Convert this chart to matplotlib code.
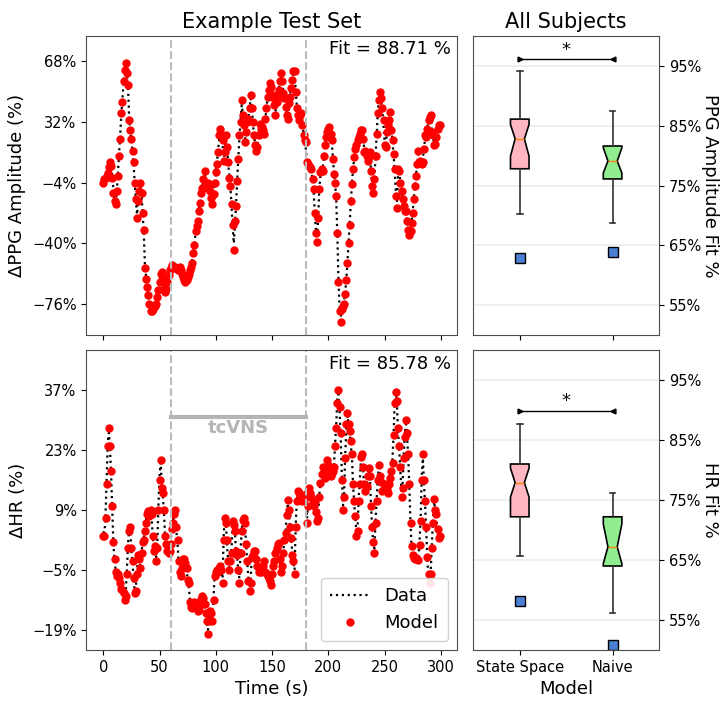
"""
Example test set fit (PPG amplitude and HR) with group box plots.
"""

import numpy as np
import matplotlib
matplotlib.use('Agg')
import matplotlib.pyplot as plt
from matplotlib.ticker import PercentFormatter

matplotlib.rcParams['font.family'] = 'DejaVu Sans'
matplotlib.rcParams['axes.edgecolor'] = '0.3'

# ------------------------------------------------------------
# Data
# ------------------------------------------------------------
time_s = np.arange(300)

ppg_model = [
    -4, -2, -1, 0, 1.5, 5, 8, 6, -1, -10,
    -15, -17, -9, 0, 12, 22, 37, 44, 56, 63,
    67, 61, 54, 33, 27, 22, 15, 8, -4, -14,
    -25, -15, -9, -4, -10, -22, -32, -55, -61, -66,
    -71, -76, -80, -80, -79, -78, -77, -76, -72, -68,
    -63, -58, -57, -61, -67, -69, -67, -63, -59, -56,
    -55, -53, -55, -54, -54, -55, -56, -55, -54, -56,
    -58, -60, -62, -63, -62, -60, -58, -56, -54, -52,
    -46, -41, -33, -30, -27, -21, -16, -10, -7, -2,
    3, -5, -7, -4, -6, -9, -13, -17, -11, -4,
    2, 7, 14, 24, 28, 25, 21, 9, 14, 24,
    17, 8, -1, -6, -17, -29, -44, -27, -18, -3,
    10, 24, 32, 45, 36, 30, 20, 26, 32, 34,
    40, 48, 40, 32, 24, 18, 15, 17, 24, 31,
    28, 29, 27, 25, 34, 40, 47, 51, 55, 53,
    47, 48, 42, 36, 44, 47, 51, 56, 61, 56,
    49, 46, 41, 36, 34, 43, 47, 52, 57, 62,
    62, 50, 40, 36, 33, 36, 37, 30, 24, 21,
    20, 8, 7, 6, 5, 4, -2, -8, -22, -34,
    -39, -25, -8, 2, 4, 3, 12, 18, 23, 26,
    28, 29, 25, 21, 10, 1, -4, -12, -34, -63,
    -80, -87, -79, -77, -76, -70, -62, -52, -40, -29,
    -15, -5, 4, 11, 16, 18, 21, 23, 25, 27,
    27, 22, 14, 15, 12, 9, 11, 14, 3, -6,
    -10, -2, 12, 25, 37, 45, 50, 46, 40, 33,
    18, 17, 26, 30, 33, 38, 27, 21, 13, 4,
    -12, -19, 4, 3, -4, -9, -14, -18, -21, -21,
    -27, -32, -35, -33, -28, -22, -14, -6, 0, 7,
    15, 9, 8, 7, 8, 16, 24, 23, 28, 33,
    35, 36, 26, 24, 18, 19, 23, 28, 30, 30,
]

ppg_data = [
    -4, -3, -1, 1, 2, 4, 7, 6, 0, -8,
    -14, -16, -10, 1, 13, 24, 36, 45, 55, 62,
    65, 62, 52, 35, 26, 21, 14, 6, -5, -15,
    -23, -16, -10, -5, -11, -23, -34, -53, -60, -66,
    -72, -77, -79, -80, -79, -77, -76, -75, -71, -67,
    -62, -59, -58, -62, -66, -68, -66, -62, -58, -56,
    -54, -54, -55, -55, -54, -55, -56, -56, -55, -56,
    -58, -60, -61, -62, -61, -59, -57, -55, -53, -50,
    -45, -40, -34, -29, -25, -20, -15, -10, -6, -2,
    1, -4, -6, -5, -6, -8, -11, -14, -10, -5,
    3, 8, 15, 22, 26, 24, 19, 11, 15, 22,
    16, 7, 0, -7, -18, -31, -40, -29, -17, -2,
    11, 23, 33, 42, 37, 29, 22, 25, 31, 35,
    41, 46, 41, 31, 23, 19, 17, 18, 25, 30,
    29, 28, 27, 27, 33, 41, 46, 52, 54, 52,
    48, 46, 43, 38, 43, 48, 52, 57, 59, 55,
    50, 45, 40, 37, 35, 42, 48, 53, 58, 60,
    59, 51, 41, 35, 34, 35, 36, 31, 25, 20,
    16, 9, 6, 6, 5, 3, -3, -10, -23, -33,
    -37, -24, -7, 1, 4, 5, 11, 17, 23, 27,
    28, 28, 26, 20, 11, 2, -5, -14, -36, -62,
    -79, -84, -80, -77, -74, -69, -61, -51, -39, -27,
    -14, -4, 5, 10, 15, 19, 21, 24, 26, 26,
    25, 21, 16, 14, 12, 10, 12, 12, 2, -6,
    -8, 0, 13, 26, 38, 46, 49, 44, 38, 30,
    20, 19, 25, 31, 34, 35, 28, 20, 12, 2,
    -10, -15, 2, 2, -4, -10, -15, -19, -22, -23,
    -28, -33, -34, -32, -27, -21, -13, -5, 1, 8,
    13, 10, 9, 8, 10, 17, 22, 25, 29, 32,
    34, 33, 27, 23, 19, 20, 24, 27, 29, 30,
]

hr_model = [
    3, 3, 7, 15, 24, 28, 24, 18, 10, 1.5,
    -2.5, -5.5, -6.5, -6, -7, -8, -9.5, -9.7, -10.5, -12,
    -11, -6, 0, 4, 5, 0, -3, -7, -10.4, -10,
    -6, -1.5, -2.5, -4.5, -1, 1.5, 2, 4, 6, 8,
    8.8, 7.5, 9, 8, 3, -0.5, 0.5, -3, 0, 9,
    16, 20.7, 14, 13, 9, 3, 1, -0.5, -1, -0.5,
    1, 4.5, 6, 8, 9, 5, 2, -3, -5.5, -6.5,
    -4.5, -2.5, -2.5, -3.5, -4.5, -7.3, -8, -12.5, -13.6, -13.8,
    -13, -12.5, -12.8, -13.5, -14.7, -14.2, -12.8, -11.8, -11, -11.5,
    -13, -15, -17, -20, -17, -14.5, -15, -17, -12, -6.5,
    -5.5, -5, -5.5, -4.5, -4, -5, -8, 2, 7, 6,
    2, -3, -5, -3, -1, 6.5, 5.5, 4, -0.5, -1.5,
    -5, -8, -1, 4, 6.7, 7, 6, 1, -3, -7.5,
    -10, -8, -2, -1.5, -0.7, -0.5, -2.5, -4, -5.5, -4.5,
    -5.5, -5, -4, -3, -5.5, -5.8, -6.5, -7, -7.5, -8.5,
    -6, -4, -3, -1, 0, 1, 1.2, -2.5, -5.5, -4,
    -1, 2, 3.6, 7.8, 11.3, 9, 5, 2.5, -1.5, -3,
    -6, 5, 11, 13.5, 13, 12.5, 11.5, 11, 11.5, 12,
    12.8, 6, 10, 14, 13, 12, 11.3, 10, 11, 8.5,
    6.5, 7, 12, 15.2, 17.3, 19, 17.5, 16.5, 18, 20.7,
    19.5, 18, 17, 17.5, 18, 19, 23.8, 28, 34, 37,
    33, 27, 16, 9, 12, 21, 29, 31.5, 29, 27.5,
    25, 22, 15, 11, 7.5, 3, 4, 11, 15, 21.4,
    22, 19, 15, 13.5, 14.5, 17, 18.7, 17, 10, 5,
    1.5, -1, 6, 11, 16, 19.5, 17, 15.5, 13.5, 13.8,
    15, 14.5, 13.8, 13, 15, 16.5, 18, 20, 26.5, 34,
    36.5, 34.5, 28, 24, 19, 12, 14, 21, 26, 30,
    27, 22, 15, 6, 0.5, -1.5, -2.3, -2.5, -2.3, -2.4,
    -2.6, 0.8, 6.5, 16, 22, 16, 11, 5, -2, -6,
    -8, -6, 0, 6, 11.5, 9, 8, 4.5, 2.5, 3,
]

hr_data = [
    4, 3, 8, 16, 25, 27, 23, 17, 9, 1,
    -3, -5, -6, -6.5, -7.5, -8.5, -9, -10, -11, -11.5,
    -10, -5, 1, 4.5, 4, -0.5, -3.5, -7.5, -10, -9,
    -5, -2, -3, -4, -0.5, 1, 2.5, 4.5, 6.5, 8.5,
    9, 8, 9.5, 7, 2.5, 0, 0, -2, 1, 10,
    17, 20, 15, 12, 8, 2.5, 0.5, 0, -1.5, 0,
    2, 5, 6.5, 8.5, 8, 4, 1, -3.5, -5, -6,
    -4, -2, -3, -4, -5, -7, -9, -12, -13, -13.5,
    -12.5, -12, -13, -14, -14, -13.5, -12, -11.5, -11.5, -12,
    -13.5, -15.5, -17.5, -19, -16, -14, -15.5, -16.5, -11, -6,
    -5, -5.5, -5, -4, -4.5, -5.5, -7, 3, 7.5, 5.5,
    1, -3.5, -4.5, -2.5, 0, 6, 5, 3.5, -1, -2,
    -5.5, -7, -0.5, 4.5, 6.5, 6.5, 5, 0.5, -3.5, -7,
    -9, -7, -1.5, -1, -1, -1, -3, -4.5, -5, -4,
    -5, -4.5, -3.5, -3.5, -5, -6, -6.5, -7.5, -8, -8,
    -5.5, -3.5, -2.5, -0.5, 0.5, 1.5, 0.5, -3, -5, -3.5,
    -0.5, 2.5, 4, 8, 10.5, 8.5, 4.5, 2, -1, -3.5,
    -5, 5.5, 11.5, 13, 12.5, 12, 11, 11.5, 12, 12.5,
    12, 7, 10.5, 13.5, 12.5, 11.5, 11, 10.5, 10.5, 8,
    7, 8, 12.5, 15.5, 17, 18.5, 17, 17, 18.5, 20,
    19, 17.5, 17.5, 17, 18.5, 19.5, 24.5, 29, 35, 36,
    32, 26, 17, 10, 13, 22, 28, 31, 28.5, 27,
    24, 21, 14.5, 10.5, 7, 3.5, 5, 12, 16, 21,
    21.5, 18, 14.5, 14, 15, 17.5, 18, 16, 9.5, 4.5,
    1, 0, 7, 12, 16.5, 19, 16.5, 15, 14, 14,
    15.5, 14, 13.5, 13.5, 15.5, 17, 18.5, 21, 27, 35,
    37, 33, 27, 23, 18, 13, 15, 22, 27, 29,
    26, 21, 14, 5.5, 0, -1, -2, -2.5, -2, -2,
    -2, 1.5, 7, 17, 21, 15, 10, 4, -3, -7,
    -8.5, -5, 1, 7, 11, 8.5, 7, 4, 2, 3,
]

ppg_fit = 88.71
hr_fit = 85.78
stim_on, stim_off = 60, 180

# Group box plot statistics (percent fit) for State Space and Naive
box_names = ['State Space', 'Naive']
ppg_med = [82.8, 79.1]
ppg_q1 = [77.8, 76.1]
ppg_q3 = [86.1, 81.6]
ppg_cilo = [79.9, 77.1]
ppg_cihi = [85.2, 81.3]
ppg_whislo = [70.2, 68.7]
ppg_whishi = [94.2, 87.5]
ppg_fliers = [62.9, 63.8]
ppg_sig_y = 96.1

hr_med = [77.9, 67.2]
hr_q1 = [72.2, 64.0]
hr_q3 = [81.0, 72.2]
hr_cilo = [75.5, 64.4]
hr_cihi = [80.3, 71.0]
hr_whislo = [65.7, 56.1]
hr_whishi = [87.7, 76.2]
hr_fliers = [58.1, 50.8]
hr_sig_y = 89.9

box_colors = ['#ffb6c1', '#90ee90']
flier_color = '#4a7fd4'

# ------------------------------------------------------------
# Figure
# ------------------------------------------------------------
fig = plt.figure(figsize=(7.26, 7.02), dpi=100)
ax_ppg = fig.add_axes([0.119, 0.5228, 0.510, 0.4259])
ax_hr = fig.add_axes([0.119, 0.0741, 0.510, 0.4273], sharex=ax_ppg)
bx_ppg = fig.add_axes([0.652, 0.5228, 0.2557, 0.4259])
bx_hr = fig.add_axes([0.652, 0.0741, 0.2557, 0.4273])


def draw_series(ax, data, model, fit, yticks, ylim, ylabel):
    ax.plot(time_s, data, color='black', linestyle=':', linewidth=1.6, label='Data')
    ax.plot(time_s, model, 'o', color='red', markersize=5, label='Model')
    for xv in (stim_on, stim_off):
        ax.axvline(xv, color='#bbbbbb', linestyle='--', linewidth=1.5)
    ax.set_ylim(*ylim)
    ax.set_yticks(yticks)
    ax.yaxis.set_major_formatter(PercentFormatter(decimals=0))
    ax.set_ylabel(ylabel, fontsize=13)
    ax.text(0.985, 0.985, f'Fit = {fit:.2f} %', transform=ax.transAxes,
            ha='right', va='top', fontsize=13)
    ax.tick_params(labelsize=10.5)


draw_series(ax_ppg, ppg_data, ppg_model, ppg_fit, [68, 32, -4, -40, -76],
            (-94.5, 83), '\u0394PPG Amplitude (%)')
draw_series(ax_hr, hr_data, hr_model, hr_fit, [37, 23, 9, -5, -19],
            (-23.7, 46.3), '\u0394HR (%)')
ax_ppg.set_xlim(-15, 314)
ax_ppg.set_xticks([0, 50, 100, 150, 200, 250, 300])
plt.setp(ax_ppg.get_xticklabels(), visible=False)
ax_hr.set_xlabel('Time (s)', fontsize=13)
ax_ppg.set_title('Example Test Set', fontsize=15)

# stimulation bar
ax_hr.plot([stim_on, stim_off], [30.7, 30.7], color='#b5b5b5', linewidth=3)
ax_hr.text((stim_on + stim_off) / 2, 28.0, 'tcVNS', color='#b5b5b5',
           fontsize=13, fontweight='bold', ha='center', va='center')
ax_hr.legend(loc='lower right', fontsize=13, handlelength=2.2,
             borderpad=0.5, labelspacing=0.5, framealpha=0.9)


def draw_boxes(ax, med, q1, q3, cilo, cihi, whislo, whishi, fliers, sig_y, ylabel):
    stats = []
    for i in range(len(box_names)):
        stats.append(dict(med=med[i], q1=q1[i], q3=q3[i], cilo=cilo[i], cihi=cihi[i],
                          whislo=whislo[i], whishi=whishi[i], fliers=[fliers[i]],
                          label=box_names[i]))
    bp = ax.bxp(stats, positions=[1, 2], widths=0.2, shownotches=True,
                patch_artist=True, capwidths=0.06,
                medianprops=dict(color='#ff7f0e', linewidth=1),
                whiskerprops=dict(color='#333333', linewidth=1.2),
                capprops=dict(color='#333333', linewidth=1.2),
                boxprops=dict(edgecolor='black', linewidth=1.2),
                flierprops=dict(marker='s', markerfacecolor=flier_color,
                                markeredgecolor='black', markersize=7))
    for patch, c in zip(bp['boxes'], box_colors):
        patch.set_facecolor(c)
    ax.set_xlim(0.5, 2.5)
    ax.set_ylim(50, 100)
    ax.set_yticks([55, 65, 75, 85, 95])
    ax.yaxis.set_major_formatter(PercentFormatter(decimals=0))
    ax.yaxis.tick_right()
    ax.yaxis.set_label_position('right')
    ax.set_ylabel(ylabel, fontsize=13, rotation=270, labelpad=13)
    ax.grid(axis='y', color='#ececec', linewidth=1.2)
    ax.set_axisbelow(True)
    ax.tick_params(labelsize=10.5)
    # significance bracket
    ax.plot([1, 2], [sig_y, sig_y], color='black', linewidth=1)
    ax.plot([1], [sig_y], marker='>', color='black', markersize=3.5)
    ax.plot([2], [sig_y], marker='<', color='black', markersize=3.5)
    ax.text(1.5, sig_y + 0.1, '*', ha='center', va='bottom', fontsize=13)


draw_boxes(bx_ppg, ppg_med, ppg_q1, ppg_q3, ppg_cilo, ppg_cihi, ppg_whislo,
           ppg_whishi, ppg_fliers, ppg_sig_y, 'PPG Amplitude Fit %')
draw_boxes(bx_hr, hr_med, hr_q1, hr_q3, hr_cilo, hr_cihi, hr_whislo,
           hr_whishi, hr_fliers, hr_sig_y, 'HR Fit %')
plt.setp(bx_ppg.get_xticklabels(), visible=False)
bx_hr.set_xlabel('Model', fontsize=13)
bx_ppg.set_title('All Subjects', fontsize=15)

plt.savefig('out.png', dpi=100)
plt.close()
